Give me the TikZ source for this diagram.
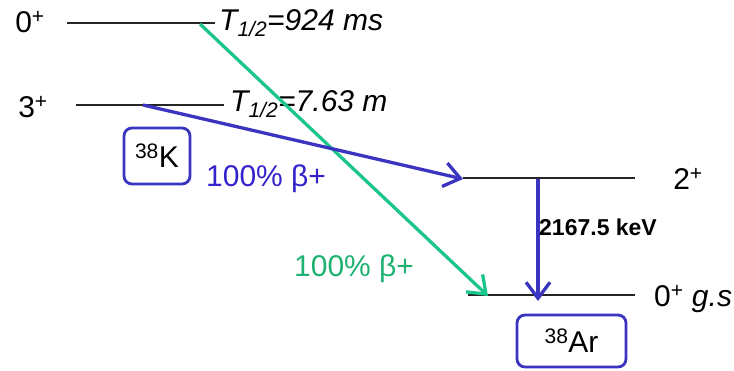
\documentclass[tikz,border=0pt]{standalone}
\usepackage{fontspec}
\setmainfont{Liberation Sans}
\usetikzlibrary{arrows.meta}
\definecolor{decblue}{RGB}{58,52,192}
\definecolor{txtblue}{RGB}{52,34,205}
\definecolor{decgreen}{RGB}{28,196,142}
\definecolor{txtgreen}{RGB}{30,178,112}
\tikzset{
  level/.style={line width=1.2pt, black!85},
  lvlabel/.style={font=\fontsize{30}{34}\selectfont, inner sep=0pt},
  halflife/.style={font=\fontsize{30}{34}\selectfont\itshape, inner sep=0pt, anchor=west},
  nucbox/.style={draw=decblue, line width=2.8pt, rounded corners=8pt, font=\fontsize{30}{34}\selectfont, inner sep=0pt},
  decay/.style={line width=3.3pt, -{Straight Barb[length=16pt,width=24pt,line width=3.3pt]}},
  pct/.style={font=\fontsize{30}{34}\selectfont, inner sep=0pt, anchor=west},
}
\begin{document}
\begin{tikzpicture}[x=1pt,y=-1pt]
\useasboundingbox (0,0) rectangle (734,371);
% levels
\coordinate (k0l) at (67,23);  \coordinate (k0r) at (215,23);
\coordinate (k3l) at (76,105); \coordinate (k3r) at (224,105);
\coordinate (a2l) at (463,178); \coordinate (a2r) at (635,178);
\coordinate (a0l) at (468,295); \coordinate (a0r) at (635,295);
\draw[level] (k0l) -- (k0r);
\draw[level] (k3l) -- (k3r);
\draw[level] (a2l) -- (a2r);
\draw[level] (a0l) -- (a0r);
% labels
\node[lvlabel] (l0) at (30,22) {0\textsuperscript{+}};
\node[lvlabel] (l3) at (33,107) {3\textsuperscript{+}};
\node[lvlabel] (l2) at (688,179) {2\textsuperscript{+}};
\node[lvlabel, anchor=west] (lg) at (654,299) {0\textsuperscript{+} \textit{g.s}};
\node[halflife] (t0) at (219,23) {T\textsubscript{1/2}=924 ms};
\node[halflife] (t3) at (230,104) {T\textsubscript{1/2}=7.63 m};
% boxes
\node[nucbox, minimum width=66pt, minimum height=56pt] (K) at (157,156) {\textsuperscript{38}K};
\node[nucbox, minimum width=109pt, minimum height=52pt] (Ar) at (571.5,341) {\textsuperscript{38}Ar};
% decays
\coordinate (gs) at (200,24);
\coordinate (ge) at (488,296);
\coordinate (bs) at (143,105);
\coordinate (be) at (463,179);
\coordinate (vs) at (538,179);
\coordinate (ve) at (538,301);
\draw[decay, decgreen] (gs) -- (ge);
\draw[decay, decblue] (bs) -- (be);
\draw[decay, decblue] (vs) -- (ve);
\node[pct, text=txtblue] (pb) at (206,179) {100\% β+};
\node[pct, text=txtgreen] (pg) at (294,269) {100\% β+};
\node[font=\fontsize{23}{26}\selectfont\bfseries, inner sep=0pt, anchor=west] (e) at (539,227) {2167.5 keV};
\end{tikzpicture}
\end{document}
